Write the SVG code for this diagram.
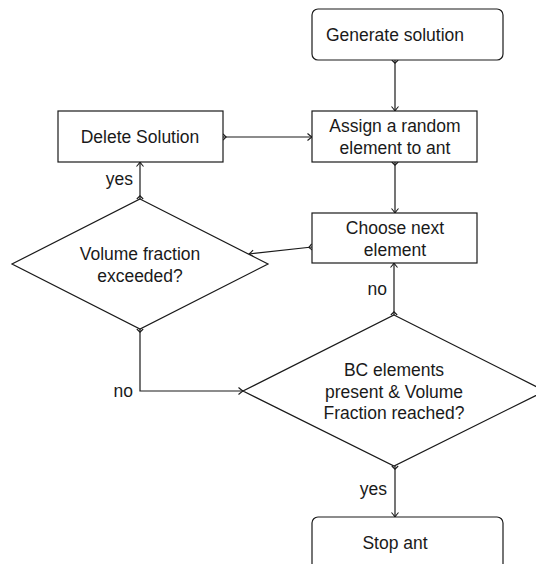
<svg xmlns="http://www.w3.org/2000/svg" width="536" height="564" viewBox="0 0 536 564">
<style>
.n{fill:#fff;stroke:#1a1a1a;stroke-width:1.2}
.c{fill:none;stroke:#1a1a1a;stroke-width:1.2}
text{font-family:"Liberation Sans",Arial,sans-serif;font-size:17.5px;fill:#1a1a1a}
.m{text-anchor:middle;dominant-baseline:central}
.r{text-anchor:end;dominant-baseline:central}
</style>
<defs>
<marker id="ah" markerUnits="userSpaceOnUse" viewBox="-6 -5 8 10" refX="0" refY="0" markerWidth="8" markerHeight="10" orient="auto" overflow="visible">
<path d="M-4.5,-3.5 Q-1.2,-0.6 0,0 Q-1.2,0.6 -4.5,3.5" fill="none" stroke="#1a1a1a" stroke-width="1.1"/>
</marker>
<marker id="tl" markerUnits="userSpaceOnUse" viewBox="-1 -4 6 8" refX="0" refY="0" markerWidth="6" markerHeight="8" orient="auto" overflow="visible">
<path d="M0,-3.2 L3.2,0 L0,3.2" fill="none" stroke="#1a1a1a" stroke-width="1.1"/>
</marker>
</defs>
<g id="connectors">
<path class="c" d="M395,60 L395,111" marker-start="url(#tl)" marker-end="url(#ah)"/>
<path class="c" d="M223,137 L312,137" marker-start="url(#tl)" marker-end="url(#ah)"/>
<path class="c" d="M395,162 L395,213" marker-start="url(#tl)" marker-end="url(#ah)"/>
<path class="c" d="M312,247 L249,254" marker-start="url(#tl)" marker-end="url(#ah)"/>
<path class="c" d="M140,199 L140,162" marker-start="url(#tl)" marker-end="url(#ah)"/>
<path class="c" d="M140,329 L140,391 L243,391" marker-start="url(#tl)" marker-end="url(#ah)"/>
<path class="c" d="M394,315 L394,263" marker-start="url(#tl)" marker-end="url(#ah)"/>
<path class="c" d="M395,466 L395,517" marker-start="url(#tl)" marker-end="url(#ah)"/>
<text class="r" x="133" y="179">yes</text>
<text class="r" x="133" y="391">no</text>
<text class="r" x="387" y="289">no</text>
<text class="r" x="387" y="489">yes</text>
</g>
<g id="generate">
<rect class="n" x="312" y="9" width="191" height="51" rx="6"/>
<text class="m" x="395" y="35">Generate solution</text>
</g>
<g id="assign">
<rect class="n" x="312" y="111" width="165" height="51"/>
<text class="m" x="395" y="126">Assign a random</text>
<text class="m" x="395" y="148">element to ant</text>
</g>
<g id="delete">
<rect class="n" x="58" y="111" width="165" height="51"/>
<text class="m" x="140" y="137">Delete Solution</text>
</g>
<g id="choose">
<rect class="n" x="312" y="213" width="165" height="50"/>
<text class="m" x="395" y="228">Choose next</text>
<text class="m" x="395" y="250">element</text>
</g>
<g id="volume">
<polygon class="n" points="140,199 268,264 140,329 12,264"/>
<text class="m" x="140" y="254">Volume fraction</text>
<text class="m" x="140" y="276">exceeded?</text>
</g>
<g id="bc">
<polygon class="n" points="394,315 545,391 394,466 243,391"/>
<text class="m" x="394" y="370">BC elements</text>
<text class="m" x="394" y="392">present &amp; Volume</text>
<text class="m" x="394" y="413">Fraction reached?</text>
</g>
<g id="stop">
<rect class="n" x="312" y="517" width="191" height="60" rx="6"/>
<text class="m" x="395" y="543">Stop ant</text>
</g>
</svg>
